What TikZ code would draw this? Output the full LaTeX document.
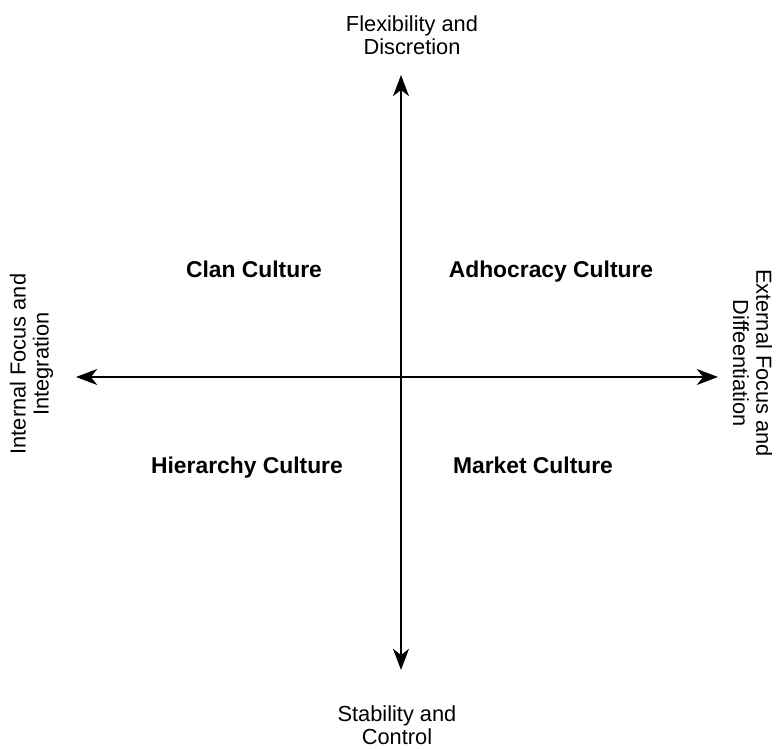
\documentclass[tikz,border=0pt]{standalone}
\usepackage{fontspec}
\setmainfont{Liberation Sans}
\usetikzlibrary{arrows.meta}
\begin{document}
\begin{tikzpicture}[>={Stealth[length=12pt,width=9pt,inset=3.5pt]},
    axis/.style={<->,line width=1.5pt},
    axislabel/.style={align=center,font=\fontsize{12.4}{13.2}\selectfont,inner sep=0pt},
    quadrant/.style={font=\fontsize{13}{15}\selectfont\bfseries,inner sep=0pt,anchor=base}]
        \useasboundingbox (0,0) rectangle (15.52,14.98);
        \coordinate (top) at (8.02,13.48);
        \coordinate (bottom) at (8.02,1.58);
        \coordinate (left) at (1.52,7.44);
        \coordinate (right) at (14.36,7.44);
        \draw [axis](bottom)--(top);
        \draw [axis](left)--(right);
        % axis labels
        \node [axislabel](flex) at (8.24,14.27){Flexibility and\\Discretion};
        \node [axislabel](stab) at (7.94,0.48){Stability and\\Control};
        \node [axislabel,rotate=90](intern) at (0.63,7.70){Internal Focus and\\Integration};
        \node [axislabel,rotate=-90](extern) at (15.05,7.72){External Focus and\\Diffeentiation};
        % quadrants
        \node [quadrant](clan) at (5.08,9.42){Clan Culture};
        \node [quadrant](adho) at (11.02,9.42){Adhocracy Culture};
        \node [quadrant](hier) at (4.94,5.50){Hierarchy Culture};
        \node [quadrant](market) at (10.66,5.50){Market Culture};
    \end{tikzpicture}
\end{document}
